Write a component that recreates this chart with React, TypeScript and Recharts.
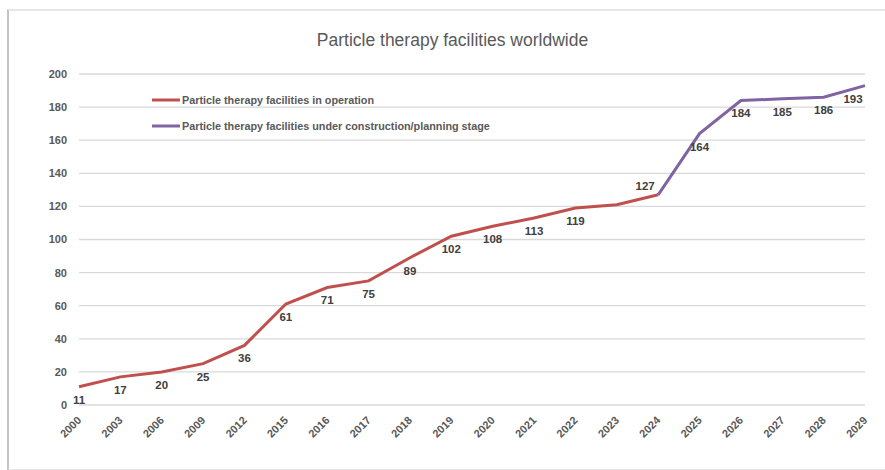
import React from "react";
import { LineChart, Line, XAxis, YAxis, CartesianGrid, LabelList } from "recharts";

const years = ["2000","2003","2006","2009","2012","2015","2016","2017","2018","2019","2020","2021","2022","2023","2024","2025","2026","2027","2028","2029"];
const inOperation: (number | null)[] = [11,17,20,25,36,61,71,75,89,102,108,113,119,121,127,null,null,null,null,null];
const underConstruction: (number | null)[] = [null,null,null,null,null,null,null,null,null,null,null,null,null,null,127,164,184,185,186,193];
const yTicks = [0,20,40,60,80,100,120,140,160,180,200];
const unlabeledYears = ["2023"];

const seriesNames = {
  op: "Particle therapy facilities in operation",
  uc: "Particle therapy facilities under construction/planning stage",
};
const RED = "#C0504D";
const PURPLE = "#8064A2";
const FONT = "'Liberation Sans', Arial, sans-serif";

const data = years.map((y, i) => ({ year: y, op: inOperation[i], uc: underConstruction[i] }));
const lastOpIndex = inOperation.reduce((acc: number, v, i) => (v != null ? i : acc), 0);
const lastIndex = years.length - 1;

const labelStyle = { fontFamily: FONT, fontSize: 11.5, fontWeight: 700, fill: "#404040" };

const OpLabel = (props: any) => {
  const { x, y, value, index } = props;
  if (value == null || unlabeledYears.includes(years[index])) return null;
  if (index === lastOpIndex) {
    return <text x={x - 13} y={y - 5} textAnchor="middle" style={labelStyle}>{value}</text>;
  }
  return <text x={x} y={y + 17} textAnchor="middle" style={labelStyle}>{value}</text>;
};

const UcLabel = (props: any) => {
  const { x, y, value, index } = props;
  if (value == null || index <= lastOpIndex || unlabeledYears.includes(years[index])) return null;
  const dx = index === lastIndex ? -12 : 0;
  return <text x={x + dx} y={y + 17} textAnchor="middle" style={labelStyle}>{value}</text>;
};

const XTick = (props: any) => {
  const { x, y, payload } = props;
  return (
    <g transform={`translate(${x + 3},${y + 8})`}>
      <text x={0} y={0} textAnchor="end" transform="rotate(-45)" style={{ fontFamily: FONT, fontSize: 11, fontWeight: 700, fill: "#595959" }}>
        {payload.value}
      </text>
    </g>
  );
};

const LegendBox = () => (
  <svg width={400} height={45} style={{ position: "absolute", left: 152, top: 92, overflow: "visible" }}>
    {[{ c: RED, t: seriesNames.op }, { c: PURPLE, t: seriesNames.uc }].map((it, i) => (
      <g key={i} transform={`translate(0,${8 + i * 26})`}>
        <line x1={0} x2={28} y1={0} y2={0} stroke={it.c} strokeWidth={3} />
        <text x={30} y={4} style={{ fontFamily: FONT, fontSize: 10.8, fontWeight: 700, fill: "#595959" }}>{it.t}</text>
      </g>
    ))}
  </svg>
);

export default function App() {
  return (
    <div style={{ position: "absolute", left: 0, top: 0, width: 885, height: 470, background: "#fff", overflow: "hidden" }}>
      <div style={{ position: "absolute", left: 7, top: 9, width: 900, height: 458, borderLeft: "2px solid #c4c4c4", borderTop: "2px solid #e6e6e6", borderBottom: "2px solid #e8e8e8" }} />
      <div style={{ position: "absolute", left: 0, top: 30, width: 905, textAlign: "center", fontFamily: FONT, fontSize: 17.5, color: "#595959" }}>
        Particle therapy facilities worldwide
      </div>
      <div style={{ position: "absolute", left: 0, top: 0 }}>
        <LineChart width={885} height={470} data={data} margin={{ top: 74, right: 20, left: 0, bottom: 0 }}>
          <CartesianGrid horizontal vertical={false} stroke="#d9d9d9" strokeWidth={1.3} />
          <XAxis dataKey="year" axisLine={false} tickLine={false} height={65} tick={<XTick />} interval={0} />
          <YAxis domain={[0, 200]} ticks={yTicks} axisLine={false} tickLine={false} width={79} tickMargin={6}
            tick={{ fontFamily: FONT, fontSize: 11, fontWeight: 700, fill: "#595959" }} />
          <Line type="linear" dataKey="op" name={seriesNames.op} stroke={RED} strokeWidth={3} dot={false} isAnimationActive={false} connectNulls={false}>
            <LabelList dataKey="op" content={<OpLabel />} />
          </Line>
          <Line type="linear" dataKey="uc" name={seriesNames.uc} stroke={PURPLE} strokeWidth={3} dot={false} isAnimationActive={false} connectNulls={false}>
            <LabelList dataKey="uc" content={<UcLabel />} />
          </Line>
        </LineChart>
      </div>
      <LegendBox />
    </div>
  );
}
